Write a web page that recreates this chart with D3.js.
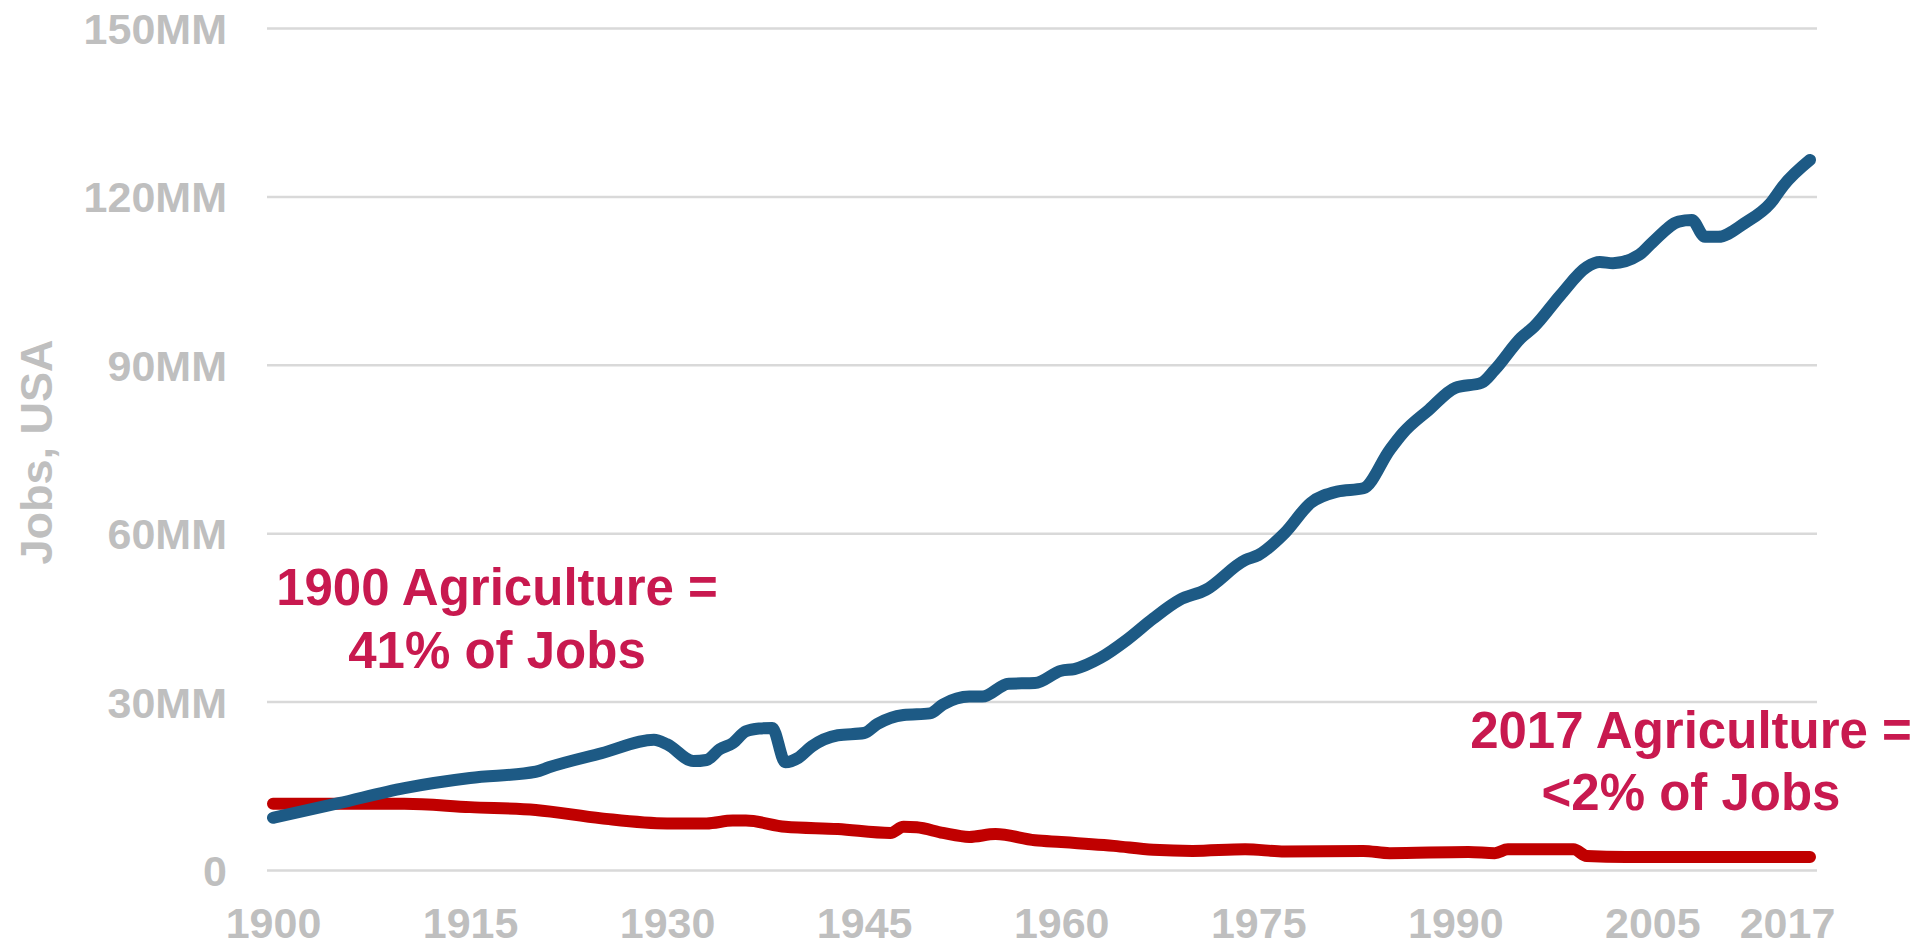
<!DOCTYPE html>
<html>
<head>
<meta charset="utf-8">
<script src="https://cdn.jsdelivr.net/npm/d3@7"></script>
<style>
  html, body { margin: 0; padding: 0; background: #fff; }
  svg { display: block; font-family: "Liberation Sans", Arial, Helvetica, sans-serif; }
</style>
</head>
<body>
<div id="chart"></div>
<script>
// total US jobs (millions)
var totalYears = [1900, 1905, 1910, 1915, 1920, 1921, 1925, 1929, 1930, 1932, 1933, 1934, 1935, 1936, 1937, 1938, 1939, 1940, 1941, 1943, 1945, 1946, 1948, 1950, 1951, 1953, 1954, 1956, 1958, 1960, 1961, 1963, 1965, 1967, 1969, 1971, 1974, 1975, 1977, 1979, 1981, 1983, 1985, 1986, 1988, 1990, 1992, 1993, 1995, 1996, 1998, 2000, 2001, 2002, 2004, 2005, 2007, 2008, 2009, 2010, 2012, 2014, 2015, 2017];
var totalJobs  = [9.3, 11.9, 14.6, 16.4, 17.5, 18.3, 20.8, 23.2, 22.4, 19.4, 19.6, 21.5, 22.6, 24.7, 25.2, 25.3, 19.2, 20.0, 22.0, 24.0, 24.4, 26.0, 27.6, 27.9, 29.5, 30.9, 30.9, 33.2, 33.3, 35.5, 35.8, 37.8, 41.0, 44.8, 48.1, 49.9, 55.2, 56.1, 60.0, 65.4, 67.4, 68.0, 74.8, 77.8, 82.0, 85.9, 86.8, 89.1, 94.8, 96.8, 102.4, 107.4, 108.3, 108.1, 109.6, 111.8, 115.5, 115.8, 112.8, 112.8, 115.2, 118.8, 122.0, 126.5];

// agriculture jobs (millions)
var agYears = [1900, 1910, 1915, 1920, 1925, 1930, 1933, 1935, 1936, 1939, 1943, 1947, 1948, 1949, 1951, 1953, 1955, 1958, 1960, 1964, 1967, 1970, 1974, 1977, 1983, 1985, 1991, 1993, 1994, 1999, 2000, 2003, 2017];
var agJobs  = [11.8, 11.8, 11.2, 10.7, 9.2, 8.3, 8.3, 8.8, 8.8, 7.7, 7.3, 6.6, 7.7, 7.6, 6.6, 5.9, 6.4, 5.3, 5.0, 4.3, 3.6, 3.4, 3.7, 3.3, 3.4, 3.0, 3.2, 3.0, 3.7, 3.7, 2.5, 2.3, 2.3];

var yTicks = [0, 30, 60, 90, 120, 150];
var xTicks = [1900, 1915, 1930, 1945, 1960, 1975, 1990, 2005, 2017];

var noteLeft  = ["1900 Agriculture =", "41% of Jobs"];
var noteRight = ["2017 Agriculture =", "<2% of Jobs"];

var W = 1929, H = 946;
var gridLeft = 267, gridRight = 1817;
var gray = "#bfbfbf", noteColor = "#c8194f";

var svg = d3.select("#chart")
  .append("svg")
  .attr("width", W)
  .attr("height", H);

var x = d3.scaleLinear().domain([1900, 2017]).range([273, 1810]);
var y = d3.scaleLinear().domain([0, 150]).range([870, 28]);

// y axis + gridlines
var yAxis = svg.append("g")
  .attr("transform", "translate(" + gridLeft + ",0)")
  .call(d3.axisLeft(y)
    .tickValues(yTicks)
    .tickSize(-(gridRight - gridLeft))
    .tickPadding(40)
    .tickFormat(function(d) { return d === 0 ? "0" : d + "MM"; }));
yAxis.select(".domain").remove();
yAxis.selectAll("line").attr("stroke", "#d9d9d9").attr("stroke-width", 2.5);
yAxis.selectAll("text")
  .attr("dy", "0.36em")
  .attr("fill", gray)
  .style("font-size", "43px")
  .style("font-weight", "bold");

// x axis labels
var xAxis = svg.append("g")
  .attr("transform", "translate(0,870)")
  .call(d3.axisBottom(x)
    .tickValues(xTicks)
    .tickSize(0)
    .tickPadding(37)
    .tickFormat(d3.format("d")));
xAxis.select(".domain").remove();
xAxis.selectAll("text")
  .attr("fill", gray)
  .attr("dx", function(d) { return d === 2017 ? -23 : 0; })
  .style("font-size", "43px")
  .style("font-weight", "bold");

// axis title
svg.append("text")
  .attr("transform", "translate(52,452) rotate(-90)")
  .attr("text-anchor", "middle")
  .attr("fill", gray)
  .style("font-size", "45px")
  .style("font-weight", "bold")
  .text("Jobs, USA");

var line = d3.line()
  .x(function(d) { return x(d[0]); })
  .y(function(d) { return y(d[1]); })
  .curve(d3.curveMonotoneX);

var agData = agYears.map(function(yr, i) { return [yr, agJobs[i]]; });
var totalData = totalYears.map(function(yr, i) { return [yr, totalJobs[i]]; });

svg.append("path")
  .datum(agData)
  .attr("d", line)
  .attr("fill", "none")
  .attr("stroke", "#c00000")
  .attr("stroke-width", 12)
  .attr("stroke-linecap", "round")
  .attr("stroke-linejoin", "round");

svg.append("path")
  .datum(totalData)
  .attr("d", line)
  .attr("fill", "none")
  .attr("stroke", "#1d5a85")
  .attr("stroke-width", 12)
  .attr("stroke-linecap", "round")
  .attr("stroke-linejoin", "round");

// annotations
function note(lines, cx, baseY, gap) {
  svg.append("g").selectAll("text")
    .data(lines)
    .enter()
    .append("text")
    .attr("x", cx)
    .attr("y", function(d, i) { return baseY + i * gap; })
    .attr("text-anchor", "middle")
    .attr("fill", noteColor)
    .style("font-size", "51px")
    .style("font-weight", "bold")
    .text(function(d) { return d; });
}
note(noteLeft, 497, 605, 63);
note(noteRight, 1691, 748, 62);
</script>
</body>
</html>
